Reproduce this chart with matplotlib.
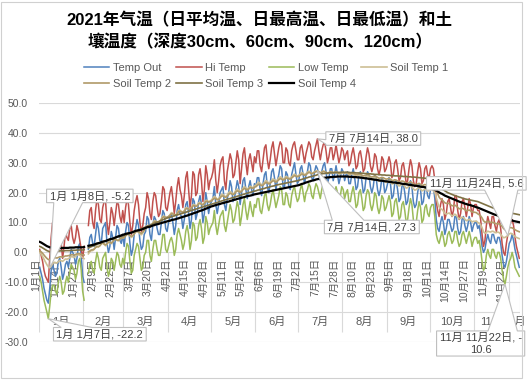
import numpy as np
import matplotlib
matplotlib.use('Agg')
import matplotlib.pyplot as plt
from matplotlib.patches import Polygon, Rectangle
from matplotlib.transforms import IdentityTransform
import pandas as pd

nan = np.nan

# ---------------- data (daily, Jan 1 - Nov 24, Dec 1 - Dec 8) ----------------
dates = list(pd.date_range('2021-01-01', '2021-11-24')) + list(pd.date_range('2021-12-01', '2021-12-08'))

temp_out = [
    -5,-7,-9,-12,-14,-16,-17,-12,-6,-4,-6,-8,-7,-3,-2,-5,-9,-7,-4,-3,-5,-2,1,0,-1,-4,-2,2,3,-1,-8,
    -10,nan,nan,1,5,6,3,2,6,10,8,4,3,8,9,10,3,0,2,7,5,1,5,9,8,4,3,6,
    2,7,10,9,3,-1,1,6,8,11,9,4,1,2,6,7,12,11,6,4,9,12,11,8,6,6,10,14,13,8,7,
    10,12,13,10,6,9,14,16,13,12,8,11,16,17,13,8,11,18,17,11,13,17,19,16,10,13,20,17,13,16,
    17,18,22,16,13,16,20,21,22,16,14,18,20,24,22,17,18,21,24,22,16,20,24,25,21,18,22,24,21,19,23,
    22,25,25,21,19,23,26,27,22,20,23,27,28,25,21,24,26,29,28,22,22,27,26,22,21,26,28,30,26,23,
    24,28,29,26,23,26,27,30,29,25,24,27,29,28,26,24,27,29,30,27,23,25,28,28,24,26,29,26,23,25,28,
    27,24,26,27,23,23,26,28,25,21,22,26,27,24,20,21,25,27,26,22,20,22,26,25,21,19,21,25,24,20,21,
    23,25,23,18,19,23,24,21,17,18,22,23,20,16,17,21,24,22,17,15,16,20,23,21,16,17,21,22,19,18,
    21,22,22,18,11,8,7,10,12,10,6,8,11,11,9,7,8,12,12,8,6,7,11,12,9,7,9,12,10,7,9,
    10,10,8,9,6,2,0,1,4,6,4,3,6,6,4,3,5,5,3,-1,-4,-5,-3,0,
    3,4,6,4,1,-1,-3,-5]

hi_temp = [
    1,-1,-3,-6,-8,-9,-10,-2,5,10,7,2,0,2,7,3,-2,2,7,5,4,8,9,5,3,5,9,7,4,1,-2,
    2,nan,nan,9,14,15,10,8,14,18,16,11,10,15,17,17,10,6,10,15,13,9,13,17,16,12,10,14,
    10,15,18,16,10,6,9,14,17,19,16,10,7,9,13,15,20,18,13,11,17,20,19,15,12,13,17,22,21,15,14,
    17,20,22,18,13,17,22,25,21,19,15,19,25,27,21,15,19,27,26,19,20,26,28,24,17,21,29,26,21,24,
    25,27,31,24,20,24,29,31,32,24,21,27,30,33,31,25,26,30,34,31,23,28,33,35,30,26,31,33,30,27,32,
    30,34,34,29,27,31,35,36,31,28,31,35,37,33,29,32,35,37,36,30,30,35,34,30,29,34,36,37,34,31,
    31,35,36,33,30,33,35,37,36,32,31,34,36,38,34,31,34,36,37,34,30,32,35,35,31,33,36,33,30,32,35,
    34,31,33,34,29,30,33,35,32,28,29,33,34,31,27,28,32,35,33,29,27,29,33,32,28,26,28,32,31,27,28,
    30,32,30,25,26,30,31,28,24,25,29,30,27,23,24,28,31,29,24,22,23,27,30,28,23,24,28,29,26,25,
    28,29,28,24,17,14,12,16,18,16,11,13,17,18,15,12,14,19,19,14,11,13,17,18,15,12,15,18,16,12,15,
    16,16,14,14,11,6,2,4,9,12,10,8,12,12,9,7,10,11,8,3,0,-1,3,6,
    9,10,11,9,5,2,0,-2]

low_temp = [
    -8,-10,-13,-16,-18,-20,-22.2,-18,-13,-11,-11,-13,-14,-10,-8,-10,-14,-13,-10,-8,-10,-7,-4,-5,-6,-9,-7,-3,-2,-6,-13,
    -16,nan,nan,-7,-4,-3,-6,-7,-3,0,-2,-5,-6,-2,-1,0,-5,-8,-6,-2,-3,-6,-3,0,-1,-4,-5,-2,
    -4,0,3,2,-3,-7,-6,-1,1,3,2,-2,-6,-5,-1,0,4,4,-1,-3,1,4,4,1,-1,-1,2,6,6,1,0,
    2,4,5,3,-1,1,6,8,6,4,1,3,7,9,6,1,4,10,9,4,5,9,11,8,3,5,12,10,6,8,
    9,10,14,9,6,9,12,13,14,9,7,10,13,16,14,10,11,14,17,15,9,12,16,18,14,11,14,17,14,12,16,
    15,18,18,14,13,16,19,20,16,14,16,19,21,18,15,17,19,22,21,16,16,20,19,16,15,19,21,22,19,17,
    18,21,23,20,17,20,21,23,22,19,18,21,23,22,20,18,21,23,23,20,17,19,22,22,18,20,22,20,17,19,22,
    21,18,20,21,17,17,20,22,19,15,16,20,21,18,14,15,19,21,20,16,14,16,20,19,15,13,15,19,18,14,15,
    17,19,17,12,13,17,18,15,11,12,16,17,14,10,11,15,18,16,11,9,10,14,17,15,10,11,15,16,13,12,
    15,16,16,12,6,4,3,5,7,5,2,3,6,7,5,3,4,7,7,4,2,3,6,7,5,3,5,7,5,2,4,
    5,5,3,4,1,-3,-6,-5,-1,1,-1,-2,1,1,-1,-2,0,0,-2,-6,-9,-10.6,-8,-5,
    -3,-2,0,-2,-5,-6,-7,-8]

soil_1 = [
    0.0,-0.6,-1.4,-2.3,-3.2,-4.1,-4.8,-5.2,-4.6,-3.8,-3.3,-3.4,-3.6,-3.1,-2.7,-2.8,-3.0,-2.6,-2.2,-2.3,-2.1,-1.8,-1.4,-1.5,-1.7,-1.3,-0.9,-0.8,-1.0,-1.3,-1.8,
    -2.1,nan,nan,-0.5,0.2,0.6,0.6,1.0,1.8,2.1,1.8,2.3,3.1,3.3,2.7,2.2,2.8,3.5,3.4,2.9,3.6,4.4,4.5,4.0,3.9,4.5,5.1,4.7,
    5.1,5.8,6.4,6.2,5.5,5.0,5.4,6.3,7.1,7.1,6.8,6.2,5.9,6.5,7.4,8.2,9.0,8.9,8.4,9.0,9.9,10.6,10.5,10.0,9.8,10.5,11.3,12.1,12.1,11.6,11.6,
    12.0,12.6,13.3,13.1,12.4,12.5,13.1,14.0,14.1,13.7,13.4,14.0,14.9,15.0,14.6,14.3,15.0,15.9,16.0,15.5,15.8,16.6,16.7,16.2,15.9,16.6,17.4,17.4,16.9,17.2,
    17.5,18.2,18.7,18.4,17.7,17.9,18.6,19.4,19.4,18.9,18.6,19.2,20.0,20.4,20.0,19.5,19.9,20.7,21.2,20.8,20.3,20.7,21.5,22.0,21.6,21.1,21.5,22.1,21.9,21.6,22.2,
    22.5,23.0,23.5,23.1,22.6,22.8,23.5,24.0,23.7,23.2,23.4,24.1,24.6,24.3,23.8,24.2,24.9,25.3,25.0,24.5,24.7,25.4,25.2,24.9,24.7,25.3,25.8,26.2,25.8,25.5,
    25.8,26.2,26.7,26.4,26.0,26.3,26.8,27.2,26.8,26.4,26.6,27.0,27.2,27.3,27.0,26.6,26.9,27.2,27.1,26.7,26.3,26.6,27.0,26.8,26.5,26.7,27.0,26.6,26.2,26.3,26.6,
    26.7,26.4,26.7,26.5,26.0,26.0,26.4,26.2,25.8,25.4,25.6,25.9,25.7,25.2,24.8,25.0,25.4,25.5,25.0,24.6,24.3,24.6,25.0,24.7,24.2,23.8,24.0,24.4,24.2,23.7,23.4,
    23.6,24.0,23.5,22.9,23.0,23.4,23.2,22.7,22.2,22.4,22.8,22.6,22.1,21.5,21.7,22.1,22.4,21.9,21.3,20.8,21.0,21.4,21.7,21.2,20.6,20.8,21.2,21.0,20.5,20.7,
    21.0,21.1,20.6,20.1,18.4,16.6,15.2,14.6,14.4,13.8,13.0,12.8,13.0,13.2,12.7,12.2,12.4,12.8,12.4,11.7,11.2,11.4,11.8,11.6,11.1,10.6,10.8,11.1,10.7,10.2,10.4,
    10.4,10.5,10.0,9.8,9.2,8.2,6.9,6.4,6.7,7.1,6.9,6.8,7.1,7.0,6.6,6.6,6.8,6.6,6.1,5.4,4.9,5.0,5.3,5.6,
    6.2,6.4,6.2,5.8,5.3,5.0,4.8,4.6]

soil_2 = [
    0.5,0.2,-0.3,-0.9,-1.5,-2.0,-2.4,-2.5,-2.3,-2.0,-1.8,-1.8,-1.9,-1.7,-1.5,-1.5,-1.6,-1.4,-1.2,-1.2,-1.1,-1.0,-0.8,-0.8,-0.9,-0.7,-0.5,-0.4,-0.5,-0.6,-0.8,
    -0.9,nan,nan,0.2,0.5,0.8,0.9,1.1,1.6,1.9,1.9,2.2,2.8,3.1,2.8,2.5,2.9,3.4,3.4,3.1,3.6,4.2,4.4,4.1,4.0,4.4,4.9,4.8,
    5.0,5.5,6.0,6.0,5.7,5.4,5.6,6.2,6.8,7.0,6.9,6.6,6.4,6.8,7.4,8.0,8.6,8.7,8.5,8.9,9.6,10.2,10.3,10.0,9.9,10.4,11.0,11.7,11.9,11.7,11.8,
    12.0,12.4,12.9,12.9,12.5,12.5,12.9,13.6,13.8,13.6,13.4,13.8,14.5,14.7,14.5,14.3,14.8,15.5,15.7,15.4,15.6,16.2,16.4,16.1,15.9,16.4,17.0,17.1,16.8,17.0,
    17.2,17.7,18.1,18.0,17.6,17.7,18.2,18.8,18.9,18.6,18.4,18.8,19.4,19.8,19.6,19.3,19.6,20.2,20.6,20.4,20.1,20.4,21.0,21.4,21.2,20.9,21.2,21.7,21.6,21.4,21.8,
    22.0,22.4,22.8,22.6,22.3,22.5,23.0,23.4,23.2,22.9,23.1,23.6,24.0,23.8,23.5,23.8,24.3,24.7,24.5,24.2,24.4,24.9,24.8,24.6,24.5,24.9,25.3,25.7,25.5,25.3,
    25.5,25.8,26.2,26.1,25.8,26.0,26.4,26.8,26.6,26.3,26.5,26.8,27.0,27.1,26.9,26.6,26.8,27.1,27.0,26.8,26.5,26.7,27.0,26.9,26.7,26.8,27.0,26.8,26.5,26.5,26.7,
    26.8,26.6,26.8,26.7,26.4,26.4,26.6,26.5,26.3,26.0,26.1,26.3,26.2,25.9,25.6,25.7,25.9,26.0,25.7,25.4,25.2,25.4,25.6,25.4,25.1,24.8,24.9,25.1,25.0,24.7,24.5,
    24.6,24.8,24.5,24.1,24.1,24.3,24.2,23.9,23.6,23.7,23.9,23.8,23.5,23.1,23.2,23.4,23.6,23.3,22.9,22.6,22.7,22.9,23.1,22.8,22.4,22.5,22.7,22.6,22.3,22.4,
    22.5,22.5,22.2,21.9,20.8,19.6,18.5,17.9,17.6,17.1,16.6,16.4,16.4,16.4,16.0,15.6,15.6,15.8,15.5,15.0,14.6,14.6,14.8,14.6,14.3,13.9,14.0,14.2,13.9,13.5,13.5,
    13.4,13.3,12.9,12.6,12.2,11.5,10.6,10.1,10.2,10.4,10.2,10.0,10.1,10.0,9.7,9.6,9.6,9.5,9.2,8.7,8.0,7.6,7.5,7.6,
    8.2,8.3,8.2,7.9,7.6,7.3,7.1,6.9]

soil_3 = [
    2.0,1.8,1.5,1.2,0.9,0.6,0.4,0.2,0.2,0.3,0.3,0.4,0.4,0.4,0.5,0.5,0.5,0.5,0.6,0.6,0.6,0.6,0.7,0.7,0.7,0.7,0.8,0.8,0.8,0.8,0.8,
    0.9,nan,nan,1.5,1.7,1.9,2.1,2.3,2.5,2.7,2.9,3.1,3.3,3.5,3.6,3.7,3.9,4.1,4.3,4.4,4.5,4.7,4.9,5.1,5.2,5.3,5.4,5.5,
    5.7,5.9,6.1,6.2,6.4,6.6,6.8,7.0,7.2,7.3,7.5,7.7,7.9,8.1,8.3,8.5,8.7,8.9,9.1,9.3,9.5,9.7,9.9,10.1,10.3,10.5,10.7,10.9,11.1,11.3,11.5,
    11.6,11.8,11.9,12.1,12.2,12.4,12.5,12.7,12.8,13.0,13.1,13.3,13.4,13.6,13.7,13.9,14.0,14.2,14.3,14.5,14.6,14.8,14.9,15.1,15.2,15.4,15.5,15.7,15.8,16.0,
    16.1,16.3,16.4,16.6,16.7,16.9,17.0,17.2,17.3,17.5,17.6,17.8,17.9,18.0,18.2,18.3,18.5,18.6,18.8,18.9,19.1,19.2,19.4,19.5,19.7,19.8,20.0,20.1,20.2,20.4,20.5,
    20.6,20.8,20.9,21.0,21.2,21.3,21.4,21.6,21.7,21.8,22.0,22.1,22.2,22.3,22.5,22.6,22.7,22.8,22.9,23.0,23.1,23.2,23.3,23.4,23.5,23.6,23.7,23.8,23.9,24.0,
    24.1,24.3,24.4,24.6,24.7,24.9,25.0,25.2,25.3,25.4,25.6,25.7,25.8,26.0,26.1,26.2,26.3,26.4,26.4,26.5,26.5,26.6,26.6,26.6,26.7,26.7,26.7,26.7,26.8,26.8,26.8,
    26.8,26.8,26.8,26.8,26.8,26.7,26.7,26.7,26.7,26.6,26.6,26.6,26.5,26.5,26.5,26.4,26.4,26.3,26.3,26.3,26.2,26.2,26.1,26.1,26.1,26.0,26.0,25.9,25.9,25.9,25.8,
    25.8,25.8,25.7,25.7,25.7,25.6,25.6,25.6,25.5,25.5,25.5,25.4,25.4,25.4,25.3,25.3,25.3,25.2,25.2,25.2,25.1,25.1,25.0,25.0,24.9,24.9,24.8,24.8,24.7,24.6,
    24.5,24.3,24.0,23.6,23.1,22.6,22.1,21.7,21.3,20.9,20.6,20.3,20.0,19.8,19.6,19.4,19.2,19.0,18.8,18.7,18.5,18.4,18.2,18.1,17.9,17.8,17.7,17.6,17.5,17.4,17.3,
    17.2,17.1,17.0,16.8,16.6,16.4,16.2,16.0,15.8,15.6,15.4,15.2,15.0,14.8,14.6,14.5,14.4,14.3,14.2,14.1,14.0,13.9,13.8,13.7,
    13.3,13.2,13.1,13.0,12.9,12.8,12.7,12.6]

soil_4 = [
    3.5,3.3,3.0,2.7,2.4,2.1,1.9,1.7,1.6,1.5,1.5,1.5,1.4,1.4,1.4,1.4,1.5,1.5,1.5,1.5,1.5,1.6,1.6,1.6,1.6,1.7,1.7,1.7,1.7,1.7,1.7,
    1.8,nan,nan,2.2,2.3,2.4,2.5,2.6,2.8,3.0,3.1,3.2,3.4,3.6,3.7,3.8,4.0,4.2,4.4,4.5,4.6,4.8,5.0,5.2,5.4,5.5,5.7,5.9,
    6.0,6.2,6.3,6.4,6.5,6.6,6.8,7.0,7.2,7.3,7.4,7.5,7.6,7.8,8.0,8.2,8.4,8.5,8.6,8.8,9.0,9.1,9.3,9.4,9.5,9.7,9.8,10.0,10.1,10.2,10.4,
    10.5,10.6,10.8,10.9,11.0,11.1,11.3,11.4,11.6,11.7,11.9,12.0,12.2,12.3,12.5,12.7,12.8,13.0,13.2,13.3,13.5,13.7,13.9,14.0,14.2,14.4,14.6,14.8,15.0,15.2,
    15.4,15.5,15.7,15.8,16.0,16.1,16.2,16.4,16.5,16.6,16.8,16.9,17.0,17.2,17.3,17.5,17.6,17.7,17.9,18.0,18.1,18.3,18.4,18.5,18.7,18.8,18.9,19.0,19.1,19.3,19.4,
    19.5,19.6,19.7,19.8,19.9,20.0,20.1,20.2,20.3,20.4,20.5,20.6,20.7,20.8,20.9,21.0,21.1,21.2,21.3,21.4,21.5,21.6,21.7,21.8,21.9,22.0,22.1,22.2,22.3,22.4,
    22.5,22.7,22.9,23.0,23.2,23.4,23.5,23.7,23.8,24.0,24.1,24.2,24.4,24.5,24.6,24.7,24.8,24.9,25.0,25.0,25.1,25.1,25.2,25.2,25.3,25.3,25.3,25.4,25.4,25.4,25.4,
    25.4,25.4,25.4,25.4,25.3,25.3,25.3,25.2,25.2,25.2,25.1,25.1,25.0,25.0,24.9,24.8,24.8,24.7,24.6,24.6,24.5,24.4,24.3,24.3,24.2,24.1,24.0,24.0,23.9,23.8,23.8,
    23.7,23.6,23.6,23.5,23.4,23.4,23.3,23.2,23.2,23.1,23.0,22.9,22.9,22.8,22.7,22.6,22.6,22.5,22.4,22.3,22.3,22.2,22.1,22.0,21.9,21.9,21.8,21.7,21.6,21.5,
    21.4,21.3,21.1,20.9,20.7,20.4,20.1,19.8,19.6,19.3,19.0,18.8,18.6,18.4,18.2,18.0,17.8,17.6,17.4,17.2,17.0,16.8,16.7,16.5,16.3,16.2,16.0,15.9,15.8,15.6,15.5,
    15.3,15.1,15.0,14.8,14.6,14.4,14.2,14.0,13.8,13.6,13.4,13.2,13.0,12.8,12.6,12.5,12.3,12.2,12.0,11.9,11.8,11.7,11.6,11.5,
    11.0,10.8,10.7,10.5,10.4,10.3,10.2,10.1]

series_names = ['Temp Out', 'Hi Temp', 'Low Temp', 'Soil Temp 1', 'Soil Temp 2', 'Soil Temp 3', 'Soil Temp 4']
series_colors = ['#4F81BD', '#C0504D', '#9BBB59', '#CDBF95', '#B09A68', '#7F7245', '#000000']
series_widths = [1.1, 1.1, 1.1, 1.2, 1.2, 1.2, 1.6]
title_text = '2021年气温（日平均温、日最高温、日最低温）和土\n壤温度（深度30cm、60cm、90cm、120cm）'

# callouts: (series index, date, box centre in data coords, wrap)
callouts = [
    (3, '2021-01-08', 35, 18.9, False),
    (2, '2021-01-07', 42, -27.4, False),
    (1, '2021-07-14', 233, 38.1, False),
    (3, '2021-07-14', 232, 8.5, False),
    (3, '2021-11-24', 305, 23.1, False),
    (2, '2021-11-22', 308, -30.5, True),
]

# ---------------- figure ----------------
plt.rcParams['font.family'] = ['Liberation Sans', 'Noto Sans CJK SC']
GRAY = '#595959'
GRID = '#D9D9D9'

fig = plt.figure(figsize=(5.3, 3.8), dpi=100)
fig.patch.set_facecolor('white')
ax = fig.add_axes([39/530, 38/380, 481/530, 239/380])

data = [temp_out, hi_temp, low_temp, soil_1, soil_2, soil_3, soil_4]
N = len(dates)
x = np.arange(N)
lines = []
for i, (vals, name, c, lw) in enumerate(zip(data, series_names, series_colors, series_widths)):
    ln, = ax.plot(x, np.array(vals, dtype=float), color=c, lw=lw, label=name, zorder=3 + i * 0.1,
                  solid_joinstyle='round')
    lines.append(ln)

ax.set_xlim(-0.5, N - 0.5)
ax.set_ylim(-30, 50)
ax.set_yticks(np.arange(-30, 51, 10))
ax.set_yticklabels([f'{v:.1f}' for v in np.arange(-30, 51, 10)])
ax.tick_params(axis='y', length=0, pad=8, labelsize=7.5, labelcolor=GRAY)
ax.set_xticks([])
for s in ax.spines.values():
    s.set_visible(False)
ax.grid(axis='y', color=GRID, lw=0.8, zorder=0)
ax.set_axisbelow(True)

# multi-level category axis (day labels + month groups) crossing at 0
months = np.array([d.month for d in dates])
bounds = [-0.5] + [i - 0.5 for i in range(1, N) if months[i] != months[i - 1]] + [N - 0.5]
ax.vlines(bounds, -26.5, 0, color=GRID, lw=0.8, zorder=1)
for a, b in zip(bounds[:-1], bounds[1:]):
    m = months[int(a + 0.5)]
    ax.text((a + b) / 2, -23.4, f'{m}月', ha='center', va='center', fontsize=8, color=GRAY, zorder=1.5)
for i in range(0, N, 13):
    d = dates[i]
    ax.text(i - 2.5, -2.0, f'{d.month}月{d.day}日', rotation=90, ha='center', va='top',
            fontsize=7.5, color=GRAY, zorder=1.5)

# title
fig.text(0.49, 0.968, title_text, ha='center', va='top', fontsize=12, fontweight='bold',
         color='#000000', linespacing=1.4)

# legend (row-major order)
order = [0, 4, 1, 5, 2, 6, 3]
leg = fig.legend([lines[k] for k in order], [series_names[k] for k in order], ncol=4,
                 loc='center', bbox_to_anchor=(0.502, 0.80), frameon=False, fontsize=8,
                 handlelength=2.3, handletextpad=0.3, columnspacing=0.5, labelspacing=0.5)
for t in leg.get_texts():
    t.set_color(GRAY)

# callouts with wedge shapes
texts = []
for si, dstr, bx, by, wrap in callouts:
    idx = [k for k, d in enumerate(dates) if d.strftime('%Y-%m-%d') == dstr][0]
    val = data[si][idx]
    d = dates[idx]
    label = f'{d.month}月 {d.month}月{d.day}日, {val:.1f}'
    if wrap:
        label = f'{d.month}月 {d.month}月{d.day}日, -\n{abs(val):.1f}'
    t = ax.text(bx, by, label, ha='center', va='center', fontsize=8, color='#404040',
                zorder=11, clip_on=False, linespacing=1.2)
    texts.append((t, idx, val))

fig.canvas.draw()
renderer = fig.canvas.get_renderer()
for t, idx, val in texts:
    bb = t.get_window_extent(renderer)
    x0, x1 = bb.x0 - 3, bb.x1 + 3
    y0, y1 = bb.y0 - 1.5, bb.y1 + 1.5
    w, h = x1 - x0, y1 - y0
    cx, cy = (x0 + x1) / 2, (y0 + y1) / 2
    tx, ty = ax.transData.transform((idx, val))
    dx, dy = tx - cx, ty - cy
    if abs(dy) / h > abs(dx) / w:
        if dx < 0:
            ba, bb2 = x0 + w / 12, x0 + 5 * w / 12
        else:
            ba, bb2 = x0 + 7 * w / 12, x0 + 11 * w / 12
        if dy < 0:
            verts = [(x0, y1), (x1, y1), (x1, y0), (bb2, y0), (tx, ty), (ba, y0), (x0, y0)]
        else:
            verts = [(x0, y0), (x1, y0), (x1, y1), (bb2, y1), (tx, ty), (ba, y1), (x0, y1)]
    else:
        if dy > 0:
            ba, bb2 = y1 - h / 12, y1 - 5 * h / 12
        else:
            ba, bb2 = y1 - 7 * h / 12, y1 - 11 * h / 12
        if dx < 0:
            verts = [(x1, y1), (x1, y0), (x0, y0), (x0, bb2), (tx, ty), (x0, ba), (x0, y1)]
        else:
            verts = [(x0, y1), (x0, y0), (x1, y0), (x1, bb2), (tx, ty), (x1, ba), (x1, y1)]
    poly = Polygon(verts, closed=True, fc='white', ec='#BFBFBF', lw=0.8,
                   transform=IdentityTransform(), zorder=10, clip_on=False)
    ax.add_patch(poly)

# chart border
fig.add_artist(Rectangle((1/530, 2/380), 521/530, 376/380, transform=fig.transFigure,
                         fill=False, ec='#D0D0D0', lw=0.8))

fig.savefig('out.png', dpi=100, facecolor='white')
